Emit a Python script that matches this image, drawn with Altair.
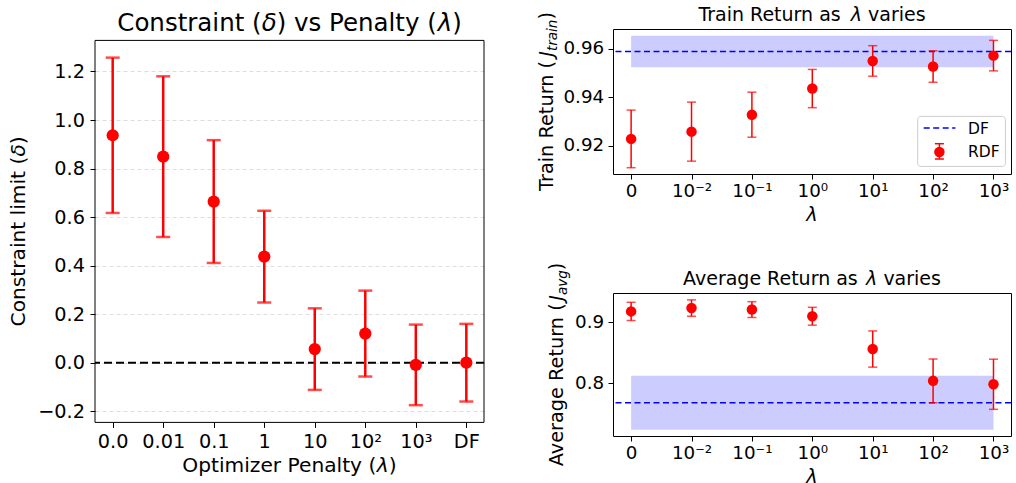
import altair as alt
import pandas as pd

FONT = "DejaVu Sans"
RED = "#ff0000"
BLUE = "#0000ff"
BAND = "#ccccff"

# ---- constraint limit (delta) against optimizer penalty (lambda) ----
penalty_labels = ["0.0", "0.01", "0.1", "1", "10", "10²", "10³", "DF"]
delta_mean = [0.937, 0.849, 0.664, 0.437, 0.056, 0.120, -0.009, 0.000]
delta_err = [0.320, 0.331, 0.253, 0.189, 0.168, 0.177, 0.166, 0.160]
zero_level = [0.0]

# ---- RDF returns as lambda varies, with the DF reference (mean, std) ----
lambda_labels = ["0", "10⁻²", "10⁻¹", "10⁰", "10¹", "10²", "10³"]
train_mean = [0.9228, 0.9258, 0.9328, 0.9436, 0.9550, 0.9527, 0.9572]
train_err = [0.0119, 0.0122, 0.0093, 0.0079, 0.0063, 0.0065, 0.0063]
train_df_mean = [0.9589]
train_df_err = [0.0065]
avg_mean = [0.9180, 0.9235, 0.9210, 0.9100, 0.8560, 0.8036, 0.7980]
avg_err = [0.0150, 0.0135, 0.0130, 0.0147, 0.0298, 0.0360, 0.0413]
avg_df_mean = [0.7675]
avg_df_err = [0.0445]

# panel sizes (plot areas); the left panel sits DROP px below the right column
WL, HL, DROP = 389, 382, 11.4
WR, HT, HB = 398, 145, 143

# font sizes
L_TITLE, L_AXTITLE, L_TICK = 24.5, 20.2, 19.3
R_TITLE, R_AXTITLE, R_SUB, R_TICK = 19, 19.3, 13.5, 18.3

# DejaVu Sans advance widths (units per em = 2048), used to lay out mixed-style titles
ADV = {" ": 651, "(": 799, ")": 799, "A": 1401, "C": 1430, "J": 604, "O": 1575,
       "P": 1235, "R": 1423, "T": 1251, "a": 1255, "e": 1260, "g": 1300, "i": 569,
       "l": 569, "m": 1995, "n": 1298, "o": 1253, "p": 1300, "r": 842, "s": 1067,
       "t": 803, "u": 1298, "v": 1212, "y": 1212, "z": 1075, "δ": 1253, "λ": 1212}

ONE = pd.DataFrame({"k": [0]})


def text_width(s, size):
    return sum(ADV.get(c, 1250) for c in s) / 2048.0 * size


def rich_text(pieces, cx, cy, angle=0):
    """Lay out (text, size, italic, drop) pieces centred on (cx, cy) along the baseline."""
    total = sum(text_width(t, s) for t, s, _, _ in pieces)
    pos = -total / 2.0
    layers = []
    for t, s, italic, drop in pieces:
        lead = text_width(t[: len(t) - len(t.lstrip(" "))], s)
        p = pos + lead
        if angle == 0:
            x, y = cx + p, cy + drop
        else:
            x, y = cx + drop, cy - p
        layers.append(
            alt.Chart(ONE).mark_text(
                align="left", baseline="alphabetic", angle=angle, fontSize=s,
                fontStyle="italic" if italic else "normal", font=FONT, color="black",
            ).encode(x=alt.value(x), y=alt.value(y), text=alt.value(t.strip(" ")))
        )
        pos += text_width(t, s)
    return layers


def label_expr(labels):
    return "[" + ",".join("'" + s + "'" for s in labels) + "][datum.value]"


def x_enc(field, labels, domain, size, pad):
    return alt.X(field, title=None,
                 scale=alt.Scale(domain=domain, nice=False, zero=False),
                 axis=alt.Axis(values=list(range(len(labels))), labelExpr=label_expr(labels),
                               labelFontSize=size, labelPadding=pad, tickSize=5, grid=False,
                               labelOverlap=False, labelFlush=False))


def y_enc(field, domain, values, fmt, size, pad, grid=False, rng=None):
    axis_args = dict(values=values, format=fmt, labelFontSize=size, labelPadding=pad,
                     tickSize=5, grid=grid, labelOverlap=False, labelFlush=False)
    if grid:
        axis_args.update(gridDash=[4, 3], gridColor="#dddddd", gridWidth=1)
    scale_args = dict(domain=domain, nice=False, zero=False)
    if rng is not None:
        scale_args["range"] = rng
    return alt.Y(field, title=None, scale=alt.Scale(**scale_args), axis=alt.Axis(**axis_args))


# ---------------- left panel ----------------
left_df = pd.DataFrame({"i": list(range(len(penalty_labels))), "mean": delta_mean, "err": delta_err})
zero_df = pd.DataFrame({"v": zero_level})

ly_dom = [-0.246, 1.328]
ly_vals = [-0.2, 0.0, 0.2, 0.4, 0.6, 0.8, 1.0, 1.2]
ly_rng = [HL + DROP, DROP]
lx = x_enc("i:Q", penalty_labels, [-0.35, 7.35], L_TICK, 5)
ly = y_enc("mean:Q", ly_dom, ly_vals, ".1f", L_TICK, 5.5, grid=True, rng=ly_rng)

left_layers = [
    alt.Chart(zero_df).mark_rule(color="black", strokeDash=[8, 4], strokeWidth=2).encode(
        y=y_enc("v:Q", ly_dom, ly_vals, ".1f", L_TICK, 5.5, grid=True, rng=ly_rng)),
    alt.Chart(left_df).mark_errorbar(ticks=True, size=14, thickness=2.5, color=RED).encode(
        x=lx, y=ly, yError="err:Q"),
    alt.Chart(left_df).mark_circle(size=150, color=RED, opacity=1).encode(x=lx, y=ly),
    # axes frame of the left panel
    alt.Chart(ONE).mark_rect(filled=False, color="black", strokeWidth=1).encode(
        x=alt.value(0), x2=alt.value(WL), y=alt.value(DROP), y2=alt.value(HL + DROP)),
]
left_layers += rich_text([("Constraint (", L_TITLE, False, 0), ("δ", L_TITLE, True, 0),
                          (") vs Penalty (", L_TITLE, False, 0), ("λ", L_TITLE, True, 0),
                          (")", L_TITLE, False, 0)], WL / 2, DROP - 9)
left_layers += rich_text([("Optimizer Penalty (", L_AXTITLE, False, 0), ("λ", L_AXTITLE, True, 0),
                          (")", L_AXTITLE, False, 0)], WL / 2, HL + DROP + 50)
left_layers += rich_text([("Constraint limit (", L_AXTITLE, False, 0), ("δ", L_AXTITLE, True, 0),
                          (")", L_AXTITLE, False, 0)], -70, DROP + HL / 2, angle=270)

left = alt.layer(*left_layers).properties(
    width=WL, height=HL + DROP, view=alt.ViewBackground(strokeOpacity=0))


# ---------------- right panels ----------------
def return_panel(mean, err, df_mean, df_err, ydomain, yvals, yfmt, H, title, ytitle, sub, ytitle_x,
                 title_y, legend=False):
    n = len(mean)
    df = pd.DataFrame({"i": list(range(n)), "mean": mean, "err": err})
    band = pd.DataFrame({"x0": [0], "x1": [n - 1],
                         "lo": [df_mean[0] - df_err[0]], "hi": [df_mean[0] + df_err[0]],
                         "m": df_mean})
    xdom = [-0.3, n - 1 + 0.29]
    ye = lambda f: y_enc(f, ydomain, yvals, yfmt, R_TICK, 4.3)
    xe = lambda f: x_enc(f, lambda_labels, xdom, R_TICK, 3)
    layers = [
        alt.Chart(band).mark_rect(color=BAND, opacity=1).encode(
            x=xe("x0:Q"), x2="x1:Q", y=ye("lo:Q"), y2="hi:Q"),
        alt.Chart(band).mark_rule(color=BLUE, strokeDash=[6, 3.5], strokeWidth=1.6).encode(
            y=ye("m:Q")),
        alt.Chart(df).mark_errorbar(ticks=True, size=9, thickness=1.5, color=RED).encode(
            x=xe("i:Q"), y=ye("mean:Q"), yError="err:Q"),
        alt.Chart(df).mark_circle(size=110, color=RED, opacity=1).encode(
            x=xe("i:Q"), y=ye("mean:Q")),
    ]
    if legend:
        lx0, ly0 = 304.7, 87.4
        layers += [
            alt.Chart(ONE).mark_rect(cornerRadius=3, fill="white", fillOpacity=0.8,
                                     stroke="#cccccc", strokeWidth=1).encode(
                x=alt.value(lx0), x2=alt.value(lx0 + 87.7), y=alt.value(ly0), y2=alt.value(ly0 + 50)),
            alt.Chart(ONE).mark_rule(color=BLUE, strokeDash=[6, 3.5], strokeWidth=1.6).encode(
                x=alt.value(lx0 + 6), x2=alt.value(lx0 + 37.7), y=alt.value(ly0 + 11.6)),
            alt.Chart(ONE).mark_rule(color=RED, strokeWidth=1.5).encode(
                x=alt.value(lx0 + 21.7), y=alt.value(ly0 + 27.3), y2=alt.value(ly0 + 42.6)),
            alt.Chart(ONE).mark_rule(color=RED, strokeWidth=1.5).encode(
                x=alt.value(lx0 + 17.2), x2=alt.value(lx0 + 26.2), y=alt.value(ly0 + 27.3)),
            alt.Chart(ONE).mark_rule(color=RED, strokeWidth=1.5).encode(
                x=alt.value(lx0 + 17.2), x2=alt.value(lx0 + 26.2), y=alt.value(ly0 + 42.6)),
            alt.Chart(ONE).mark_circle(size=110, color=RED, opacity=1).encode(
                x=alt.value(lx0 + 21.7), y=alt.value(ly0 + 35.6)),
            alt.Chart(ONE).mark_text(align="left", baseline="alphabetic", fontSize=15.5,
                                     font=FONT, color="black").encode(
                x=alt.value(lx0 + 50.3), y=alt.value(ly0 + 17.6), text=alt.value("DF")),
            alt.Chart(ONE).mark_text(align="left", baseline="alphabetic", fontSize=15.5,
                                     font=FONT, color="black").encode(
                x=alt.value(lx0 + 50.3), y=alt.value(ly0 + 41), text=alt.value("RDF")),
        ]
    layers += rich_text([(title, R_TITLE, False, 0), ("λ", R_TITLE, True, 0),
                         (" varies", R_TITLE, False, 0)], WR / 2, -title_y)
    layers += rich_text([("λ", R_AXTITLE, True, 0)], WR / 2, H + 46.5)
    layers += rich_text([(ytitle, R_AXTITLE, False, 0), ("J", R_AXTITLE, True, 0),
                         (sub, R_SUB, True, 4), (")", R_AXTITLE, False, 0)],
                        ytitle_x, H / 2, angle=270)
    return alt.layer(*layers).properties(width=WR, height=H)


top = return_panel(train_mean, train_err, train_df_mean, train_df_err, [0.9083, 0.9682],
                   [0.92, 0.94, 0.96], ".2f", HT, "Train Return as ", "Train Return (", "train",
                   -60, 7.6, legend=True)
bottom = return_panel(avg_mean, avg_err, avg_df_mean, avg_df_err, [0.7128, 0.9483],
                      [0.8, 0.9], ".1f", HB, "Average Return as ", "Average Return (", "avg",
                      -50, 8.3)

right_col = alt.vconcat(top, bottom, spacing=119, bounds="flush")

chart = alt.hconcat(left, right_col, spacing=129, bounds="flush").properties(
    padding={"left": 9, "top": 5, "right": 2, "bottom": 0}
).configure(font=FONT).configure_view(
    stroke="black", strokeWidth=1
).configure_axis(
    domain=False, tickColor="black", tickWidth=1, labelColor="black", labelFont=FONT
)

chart.save("out.html", embed_options={"renderer": "svg", "actions": False})
